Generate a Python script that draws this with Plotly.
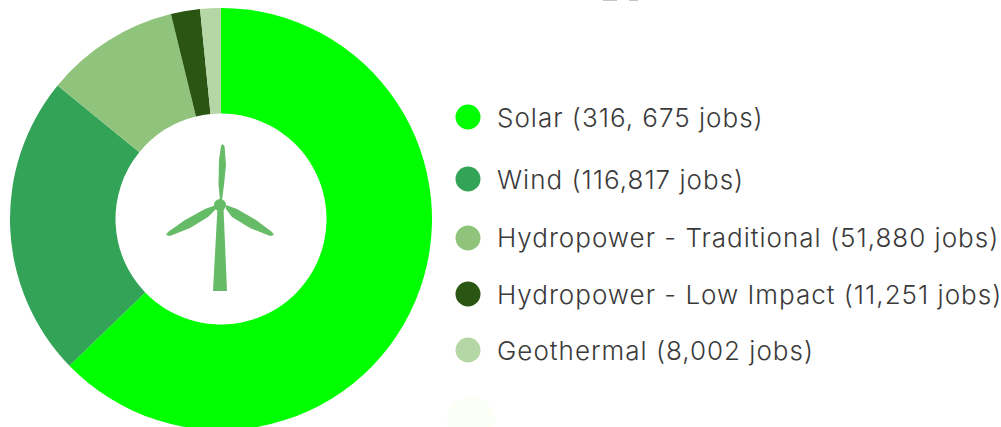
import plotly.graph_objects as go

W, H = 1001, 431
categories = ["Solar", "Wind", "Hydropower - Traditional", "Hydropower - Low Impact", "Geothermal"]
jobs = [316675, 116817, 51880, 11251, 8002]
colors = ["#00FF00", "#33A457", "#90C47C", "#2B5512", "#B5D6A5"]
legend_labels = ["Solar (316, 675 jobs)", "Wind (116,817 jobs)", "Hydropower - Traditional (51,880 jobs)",
                 "Hydropower - Low Impact (11,251 jobs)", "Geothermal (8,002 jobs)"]
legend_y = [117, 179, 238, 294, 350]

def px(x): return x / W
def py(y): return 1 - y / H

fig = go.Figure(go.Pie(
    labels=categories, values=jobs, hole=0.5, sort=False, direction="clockwise", rotation=0,
    marker=dict(colors=colors, line=dict(width=0)), textinfo="none", hoverinfo="label+value",
    domain=dict(x=[px(10), px(432)], y=[py(430), py(8)]), showlegend=False,
))

def path(points):
    return "M " + " L ".join(f"{px(x):.5f},{py(y):.5f}" for x, y in points) + " Z"

icon = "#66BB66"
shapes = []
for pts in [
    [(213, 291), (227, 291), (223.5, 208), (217.5, 208)],
    [(220, 200), (218.5, 185), (219, 160), (221, 146), (222.5, 144), (224.5, 146), (226, 165), (224, 185), (222, 200)],
    [(216, 205), (205, 209), (185, 220), (168, 232), (166, 235), (170, 236), (190, 228), (208, 217), (216, 209)],
    [(226, 205), (237, 209), (256, 220), (272, 232), (274, 235), (270, 236), (250, 228), (232, 217), (226, 209)],
]:
    shapes.append(dict(type="path", path=path(pts), fillcolor=icon, line=dict(width=0), xref="paper", yref="paper", layer="above"))
shapes.append(dict(type="circle", xref="paper", yref="paper", x0=px(214), x1=px(226), y0=py(211), y1=py(199),
                   fillcolor=icon, line=dict(width=0), layer="above"))

annotations = []
for label, c, y in zip(legend_labels, colors, legend_y):
    shapes.append(dict(type="circle", xref="paper", yref="paper", x0=px(455.5), x1=px(480.5), y0=py(y + 12.5), y1=py(y - 12.5),
                       fillcolor=c, line=dict(width=0)))
    annotations.append(dict(text=label, x=px(495), y=py(y), xref="paper", yref="paper", xanchor="left", yanchor="middle", align="left",
                            showarrow=False, font=dict(family="Inter", size=26, color="#3A3A3A", weight=300)))
shapes.append(dict(type="circle", xref="paper", yref="paper", x0=px(447), x1=px(495), y0=py(445), y1=py(397),
                   fillcolor="#FCFFF6", line=dict(width=0), layer="below"))
# clipped descenders of the cut-off heading at the top edge
for x0, x1 in [(603, 617), (629, 638)]:
    shapes.append(dict(type="rect", xref="paper", yref="paper", x0=px(x0), x1=px(x1), y0=py(1), y1=py(0),
                       fillcolor="#C4C4C4", line=dict(width=0)))

fig.update_layout(width=W, height=H, margin=dict(l=0, r=0, t=0, b=0), paper_bgcolor="white",
                  shapes=shapes, annotations=annotations)
fig.write_html("out.html", config=dict(displayModeBar=False),
               post_script="document.body.style.margin='0';document.documentElement.style.overflow='hidden';document.body.style.overflow='hidden';"
                           "var s=document.createElement('style');s.textContent='.annotation-text{letter-spacing:1px}';document.head.appendChild(s);")
